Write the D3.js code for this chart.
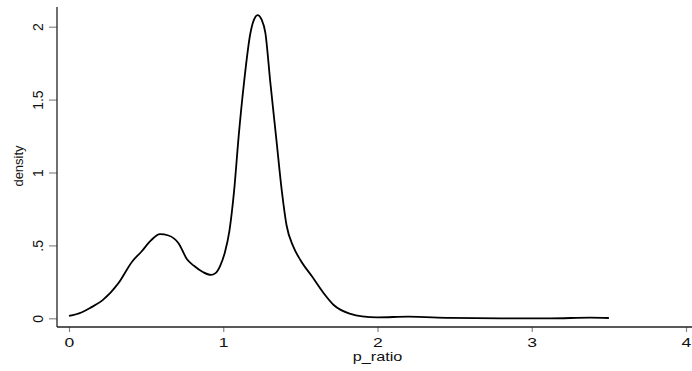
<!DOCTYPE html>
<html>

<head>
    <meta charset="UTF-8">
    <style>
        body { margin: 0; background: #fff; }
        text { font-family: "Liberation Sans", Arial, sans-serif; fill: #111; }
    </style>
</head>

<body>
    <div id="chart"></div>

    <script src="https://d3js.org/d3.v7.min.js"></script>
    <script>

        // kernel density of p_ratio
        const pRatio = [0.00, 0.08, 0.14, 0.22, 0.32, 0.41, 0.47, 0.53, 0.59, 0.645, 0.71, 0.765, 0.81, 0.87, 0.92, 0.95,
            0.98, 1.01, 1.04, 1.07, 1.10, 1.135, 1.175, 1.20, 1.223, 1.248, 1.273, 1.305, 1.345, 1.38, 1.41,
            1.455, 1.50, 1.576, 1.651, 1.716, 1.825, 1.90, 2.00, 2.20, 2.47, 2.80, 3.12, 3.38, 3.50];
        const density = [0.016, 0.04, 0.073, 0.126, 0.24, 0.39, 0.458, 0.533, 0.577, 0.568, 0.515, 0.405, 0.36, 0.316, 0.298, 0.31,
            0.36, 0.45, 0.60, 0.87, 1.25, 1.62, 1.95, 2.05, 2.08, 2.05, 1.958, 1.62, 1.22, 0.87, 0.64,
            0.49, 0.40, 0.286, 0.172, 0.091, 0.03, 0.013, 0.007, 0.011, 0.003, 0.0, 0.0, 0.004, 0.002];

        const xTicks = [0, 1, 2, 3, 4];
        const yTicks = [0, 0.5, 1, 1.5, 2];
        const yTickLabels = ["0", ".5", "1", "1.5", "2"];

        const width = 692, height = 371;
        // plot frame (axis lines)
        const frame = { left: 57, right: 692, top: 7, bottom: 327 };

        const svg = d3.select("#chart")
            .append("svg")
            .attr("width", width)
            .attr("height", height);

        const x = d3.scaleLinear().domain([0, 4]).range([69, 686]);
        const y = d3.scaleLinear().domain([0, 2]).range([318.3, 26.7]);

        // x axis
        const gx = svg.append("g")
            .attr("transform", `translate(0, ${frame.bottom})`)
            .call(d3.axisBottom(x).tickValues(xTicks).tickSize(5).tickPadding(0).tickFormat(d3.format("d")));
        gx.select(".domain").remove();
        gx.selectAll(".tick line").attr("stroke", "#888").attr("stroke-width", 1.2);
        gx.selectAll(".tick text")
            .attr("y", 20)
            .attr("dy", null)
            .attr("transform", "scale(1.35,1)")
            .style("font-size", "13px");

        // y axis
        const gy = svg.append("g")
            .attr("transform", `translate(${frame.left}, 0)`)
            .call(d3.axisLeft(y).tickValues(yTicks).tickSize(8).tickFormat((d, i) => yTickLabels[i]));
        gy.select(".domain").remove();
        gy.selectAll(".tick line").attr("stroke", "#888").attr("stroke-width", 1.2);
        gy.selectAll(".tick text")
            .attr("x", 0)
            .attr("dy", "0.36em")
            .attr("text-anchor", "middle")
            .attr("transform", "translate(-19,0) rotate(-90)")
            .style("font-size", "14px");

        // frame lines
        svg.append("line")
            .attr("x1", frame.left).attr("x2", frame.right)
            .attr("y1", frame.bottom).attr("y2", frame.bottom)
            .attr("stroke", "#222").attr("stroke-width", 1.3);
        svg.append("line")
            .attr("x1", frame.left).attr("x2", frame.left)
            .attr("y1", frame.top).attr("y2", frame.bottom)
            .attr("stroke", "#222").attr("stroke-width", 1.3);

        // density curve
        const line = d3.line()
            .x((d, i) => x(pRatio[i]))
            .y(d => y(d))
            .curve(d3.curveMonotoneX);

        svg.append("path")
            .datum(density)
            .attr("fill", "none")
            .attr("stroke", "#000")
            .attr("stroke-width", 1.8)
            .attr("d", line);

        // axis titles
        const midX = (x(0) + x(4)) / 2;
        svg.append("text")
            .attr("x", 0)
            .attr("y", 0)
            .attr("text-anchor", "middle")
            .attr("transform", `translate(${midX}, 361) scale(1.3,1)`)
            .style("font-size", "12.5px")
            .text("p_ratio");

        svg.append("text")
            .attr("text-anchor", "middle")
            .attr("dy", "0.35em")
            .attr("transform", "translate(18,166) rotate(-90)")
            .style("font-size", "13px")
            .text("density");

    </script>
</body>

</html>
